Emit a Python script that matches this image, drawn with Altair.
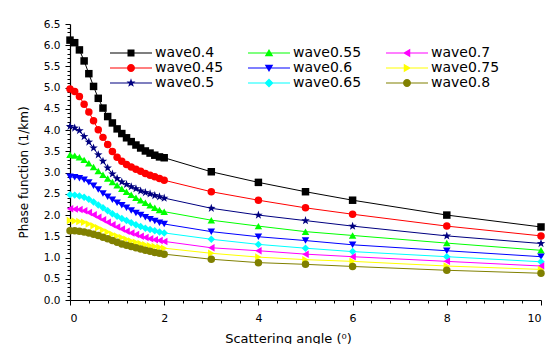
import altair as alt
import pandas as pd

angles = [0.0, 0.1, 0.2, 0.3, 0.4, 0.5, 0.6, 0.7, 0.8, 0.9, 1.0, 1.1, 1.2, 1.3, 1.4,
          1.5, 1.6, 1.7, 1.8, 1.9, 2.0, 3, 4, 5, 6, 8, 10]

wave04 = [6.12, 6.06, 5.89, 5.63, 5.33, 5.03, 4.75, 4.52, 4.32, 4.17, 4.03, 3.92, 3.82, 3.73,
          3.65, 3.58, 3.51, 3.46, 3.41, 3.37, 3.35, 3.02, 2.77, 2.55, 2.35, 2.00, 1.72]
wave045 = [4.97, 4.91, 4.79, 4.61, 4.43, 4.22, 4.01, 3.83, 3.66, 3.50, 3.36, 3.27, 3.19, 3.13,
           3.08, 3.03, 2.98, 2.94, 2.90, 2.86, 2.82, 2.55, 2.35, 2.17, 2.02, 1.74, 1.51]
wave05 = [4.09, 4.05, 3.99, 3.85, 3.72, 3.58, 3.42, 3.27, 3.11, 2.97, 2.86, 2.78, 2.72, 2.67,
          2.62, 2.57, 2.53, 2.50, 2.46, 2.43, 2.40, 2.16, 2.00, 1.87, 1.74, 1.51, 1.33]
wave055 = [3.42, 3.40, 3.36, 3.30, 3.22, 3.13, 3.04, 2.95, 2.86, 2.78, 2.70, 2.62, 2.55, 2.48,
           2.41, 2.35, 2.29, 2.23, 2.17, 2.12, 2.08, 1.88, 1.74, 1.61, 1.52, 1.34, 1.17]
wave06 = [2.90, 2.89, 2.87, 2.83, 2.77, 2.69, 2.60, 2.51, 2.43, 2.36, 2.29, 2.23, 2.17, 2.11,
          2.05, 2.00, 1.95, 1.90, 1.86, 1.82, 1.79, 1.61, 1.49, 1.40, 1.30, 1.16, 1.02]
wave065 = [2.48, 2.47, 2.45, 2.42, 2.37, 2.31, 2.24, 2.17, 2.10, 2.03, 1.97, 1.92, 1.87, 1.82,
           1.77, 1.73, 1.69, 1.66, 1.63, 1.60, 1.58, 1.43, 1.31, 1.22, 1.14, 1.02, 0.90]
wave07 = [2.15, 2.14, 2.13, 2.10, 2.06, 2.01, 1.95, 1.89, 1.83, 1.77, 1.72, 1.67, 1.62, 1.58,
          1.54, 1.50, 1.47, 1.44, 1.42, 1.40, 1.38, 1.23, 1.16, 1.08, 1.02, 0.91, 0.80]
wave075 = [1.87, 1.86, 1.85, 1.83, 1.79, 1.75, 1.70, 1.65, 1.60, 1.55, 1.51, 1.47, 1.43, 1.39,
           1.36, 1.33, 1.30, 1.28, 1.26, 1.24, 1.22, 1.10, 1.01, 0.95, 0.91, 0.80, 0.72]
wave08 = [1.63, 1.63, 1.62, 1.60, 1.58, 1.55, 1.52, 1.48, 1.44, 1.40, 1.36, 1.32, 1.29, 1.26,
          1.23, 1.20, 1.17, 1.15, 1.12, 1.10, 1.08, 0.96, 0.88, 0.84, 0.79, 0.70, 0.63]

series_names = ["wave0.4", "wave0.45", "wave0.5", "wave0.55", "wave0.6",
                "wave0.65", "wave0.7", "wave0.75", "wave0.8"]
series_values = [wave04, wave045, wave05, wave055, wave06, wave065, wave07, wave075, wave08]

rows = []
for name, vals in zip(series_names, series_values):
    for a, v in zip(angles, vals):
        rows.append({"series": name, "angle": a, "value": v})
df = pd.DataFrame(rows)

color_map = {"wave0.4": "#000000", "wave0.45": "#FF0000", "wave0.5": "#000080",
             "wave0.55": "#00FF00", "wave0.6": "#0000FF", "wave0.65": "#00FFFF",
             "wave0.7": "#FF00FF", "wave0.75": "#FFFF00", "wave0.8": "#808000"}
STAR = ("M0,-1L0.235,-0.324L0.951,-0.309L0.38,0.124L0.588,0.809L0,0.4L-0.588,0.809"
        "L-0.38,0.124L-0.951,-0.309L-0.235,-0.324Z")
shape_map = {"wave0.4": "square", "wave0.45": "circle", "wave0.5": STAR,
             "wave0.55": "triangle-up", "wave0.6": "triangle-down", "wave0.65": "diamond",
             "wave0.7": "triangle-left", "wave0.75": "triangle-right", "wave0.8": "circle"}
size_map = {"wave0.4": 56, "wave0.45": 56, "wave0.5": 80, "wave0.55": 56, "wave0.6": 56,
            "wave0.65": 56, "wave0.7": 56, "wave0.75": 56, "wave0.8": 56}
# legend symbol = thin filled bar (the line) + marker, all drawn clockwise
LINE = "M-4.2,-0.11H4.2V0.11H-4.2Z"
CIRCLE = "M-0.8,0A0.8,0.8 0 1,1 0.8,0A0.8,0.8 0 1,1 -0.8,0Z"
legend_marker = {
    "wave0.4": "M-0.7,-0.7H0.7V0.7H-0.7Z",
    "wave0.45": CIRCLE,
    "wave0.5": ("M0,-0.95L0.22,-0.31L0.9,-0.29L0.36,0.12L0.56,0.77L0,0.38L-0.56,0.77"
                "L-0.36,0.12L-0.9,-0.29L-0.22,-0.31Z"),
    "wave0.55": "M0,-0.8L0.85,0.65H-0.85Z",
    "wave0.6": "M0,0.8L-0.85,-0.65H0.85Z",
    "wave0.65": "M0,-0.9L0.9,0L0,0.9L-0.9,0Z",
    "wave0.7": "M-0.8,0L0.65,-0.85V0.85Z",
    "wave0.75": "M0.8,0L-0.65,0.85V-0.85Z",
    "wave0.8": CIRCLE,
}

colors = [color_map[n] for n in series_names]
legend_shapes = [LINE + legend_marker[n] for n in series_names]

FONT = "DejaVu Sans"
xscale = alt.Scale(domain=[0, 10], nice=False)
yscale = alt.Scale(domain=[0, 6.5], nice=False, zero=False)

# major + minor ticks on one axis: minor ticks are shorter and unlabeled
x_tick_vals = [round(i * 0.4, 2) for i in range(26)]
y_tick_vals = [round(i * 0.1, 2) for i in range(66)]
x_is_major = "abs(datum.value / 2 - round(datum.value / 2)) < 0.001"
y_is_major = "abs(datum.value * 2 - round(datum.value * 2)) < 0.001"

x_axis = alt.Axis(
    values=x_tick_vals,
    tickSize={"condition": {"test": x_is_major, "value": 5}, "value": 3},
    labelExpr=f"{x_is_major} ? format(datum.value, 'd') : ''",
    labelPadding=7, labelFontSize=11,
    title="Scattering angle (\u2070)", titleFontSize=13, titleX=218, titleY=42,
    titleBaseline="alphabetic", titleFontWeight="normal", grid=False, orient="bottom",
    labelOverlap=False,
)
y_axis = alt.Axis(
    values=y_tick_vals,
    tickSize={"condition": {"test": y_is_major, "value": 5}, "value": 3},
    labelExpr=f"{y_is_major} ? format(datum.value, '.1f') : ''",
    labelPadding=5, labelFontSize=10.5, title="Phase function (1/km)",
    titleFontSize=12, titleFontWeight="normal", titleX=-40, titleY=148,
    grid=False, orient="left", labelOverlap=False,
)

base = alt.Chart(df)
X = alt.X("angle:Q", scale=xscale, axis=x_axis)
Y = alt.Y("value:Q", scale=yscale, axis=y_axis)
Xn = alt.X("angle:Q", scale=xscale, axis=None)
Yn = alt.Y("value:Q", scale=yscale, axis=None)

layers = []
for i, name in enumerate(series_names):
    sub = base.transform_filter(alt.datum.series == name)
    layers.append(
        sub.mark_line(strokeWidth=1, color=color_map[name])
        .encode(x=X if i == 0 else Xn, y=Y if i == 0 else Yn)
    )
    layers.append(
        sub.mark_point(filled=True, size=size_map[name], opacity=1, shape=shape_map[name],
                       color=color_map[name])
        .encode(x=Xn, y=Yn)
    )

legend_layer = base.mark_point(opacity=0, filled=True).encode(
    x=Xn, y=Yn,
    color=alt.Color("series:N", scale=alt.Scale(domain=series_names, range=colors),
                    legend=alt.Legend(title=None)),
    shape=alt.Shape("series:N", scale=alt.Scale(domain=series_names, range=legend_shapes),
                    legend=alt.Legend(title=None)),
)

chart = alt.layer(*layers, legend_layer).resolve_axis(
    x="independent", y="independent"
).properties(
    width=471, height=276,
    padding={"left": 70, "top": 24, "right": 13, "bottom": 44},
    autosize=alt.AutoSizeParams(type="none"),
).configure_view(
    stroke=None
).configure_axis(
    labelFont=FONT, titleFont=FONT, labelColor="black", titleColor="black",
    domainColor="black", tickColor="black", domainWidth=1.2, tickWidth=1,
    titleFontWeight="normal",
).configure_legend(
    orient="none", legendX=38, legendY=22, columns=3, symbolSize=100, symbolOffset=16,
    labelOffset=17, columnPadding=22, rowPadding=1, labelFont=FONT, labelFontSize=14,
    labelColor="black", symbolOpacity=1, symbolStrokeWidth=0, padding=0,
)

chart.save("out.html", embed_options={"renderer": "svg", "actions": False})
